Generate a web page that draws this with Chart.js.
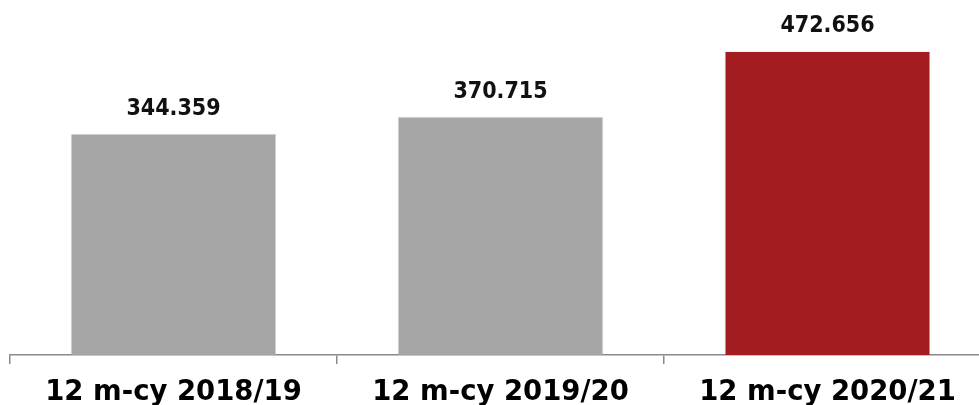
<!DOCTYPE html>
<html>
<head>
<meta charset="utf-8">
<script src="https://cdn.jsdelivr.net/npm/chart.js@4/dist/chart.umd.min.js"></script>
<style>
    html, body { margin: 0; padding: 0; background: #fff; overflow: hidden; }
    #wrap { position: relative; width: 991px; height: 405px; }
</style>
</head>
<body>
<div id="wrap"><canvas id="myChart"></canvas></div>
<script>
// chart data
const categories = ['12 m-cy 2018/19', '12 m-cy 2019/20', '12 m-cy 2020/21'];
const values = [344.359, 370.715, 472.656];
const value_labels = ['344.359', '370.715', '472.656'];
const bar_colors = ['#a5a5a5', '#a5a5a5', '#a21c22'];

// draw value labels above each bar
const valueLabels = {
    id: 'valueLabels',
    afterDatasetsDraw(chart) {
        const ctx = chart.ctx;
        const meta = chart.getDatasetMeta(0);
        ctx.save();
        ctx.font = 'bold 23px "DejaVu Sans Condensed", "DejaVu Sans", sans-serif';
        ctx.fillStyle = '#111';
        ctx.textAlign = 'center';
        ctx.textBaseline = 'alphabetic';
        meta.data.forEach(function (bar, i) {
            ctx.fillText(value_labels[i], bar.x, bar.y - 19);
        });
        ctx.restore();
    }
};

const ctx = document.getElementById('myChart');
new Chart(ctx.getContext('2d'), {
    type: 'bar',
    data: {
        labels: categories,
        datasets: [{
            data: values,
            backgroundColor: bar_colors,
            borderColor: 'rgba(0,0,0,0.06)',
            borderWidth: 1,
            categoryPercentage: 1,
            barPercentage: 0.63
        }]
    },
    options: {
        responsive: true,
        maintainAspectRatio: false,
        animation: false,
        layout: { padding: { left: 10, right: 0, top: 0, bottom: 0 } },
        plugins: {
            legend: { display: false },
            tooltip: { enabled: false }
        },
        scales: {
            x: {
                offset: true,
                grid: {
                    offset: true,
                    drawOnChartArea: false,
                    color: '#8a8a8a',
                    tickLength: 9,
                    lineWidth: 1.5
                },
                border: { color: '#8a8a8a', width: 1.5 },
                ticks: {
                    color: '#000',
                    padding: 12,
                    maxRotation: 0,
                    font: { family: '"DejaVu Sans", Verdana, sans-serif', weight: 'bold', size: 27.5 }
                },
                afterFit: function (axis) { axis.height = 50; }
            },
            y: {
                display: false,
                min: 0,
                max: 552
            }
        }
    },
    plugins: [valueLabels]
});
</script>
</body>
</html>
